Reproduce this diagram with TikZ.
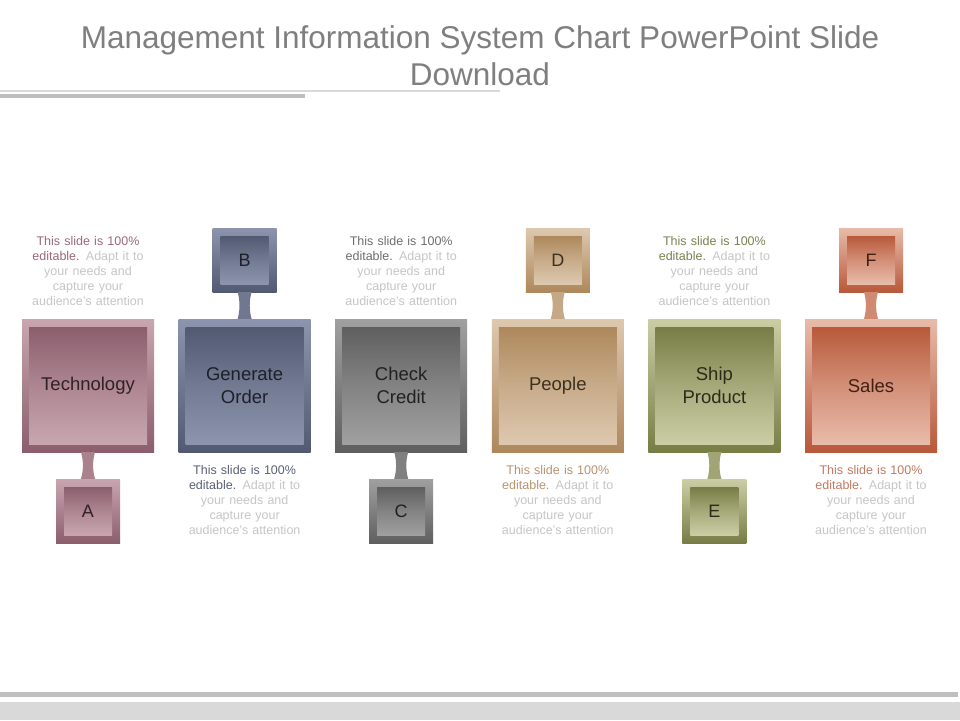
\documentclass[tikz,border=0pt]{standalone}
\usepackage{fontspec}
\setmainfont{Liberation Sans}
\usetikzlibrary{calc}
% column colours: d = dark, l = light, t = text
\definecolor{cAd}{HTML}{8C5E6D}\definecolor{cAl}{HTML}{C8A6B0}\definecolor{cAt}{HTML}{9A6A78}
\definecolor{cBd}{HTML}{525A72}\definecolor{cBl}{HTML}{8D95AE}\definecolor{cBt}{HTML}{5A6178}
\definecolor{cCd}{HTML}{5F5F5F}\definecolor{cCl}{HTML}{A0A0A0}\definecolor{cCt}{HTML}{6E6E6E}
\definecolor{cDd}{HTML}{AE885C}\definecolor{cDl}{HTML}{DDC8AF}\definecolor{cDt}{HTML}{B8946F}
\definecolor{cEd}{HTML}{777D45}\definecolor{cEl}{HTML}{CBCEA5}\definecolor{cEt}{HTML}{7C8150}
\definecolor{cFd}{HTML}{B8593A}\definecolor{cFl}{HTML}{E8BBAA}\definecolor{cFt}{HTML}{C27A62}
\definecolor{titlegray}{HTML}{7F7F7F}
\definecolor{softgray}{HTML}{C6C6C6}
\definecolor{lineA}{HTML}{D9D9D9}
\definecolor{lineB}{HTML}{BFBFBF}
\tikzset{
  bigouter/.style={draw=none, inner sep=0pt, minimum width=132pt, minimum height=133pt,
    top color=#1l, bottom color=#1d},
  biginner/.style={draw=none, inner sep=0pt, minimum width=118pt, minimum height=117pt,
    top color=#1d, bottom color=#1l, middle color=#1d!45!#1l, align=center,
    font=\fontsize{18.5}{23}\selectfont, text=#1d!35!black},
  smallouter/.style={draw=none, inner sep=0pt, minimum size=64pt,
    top color=#1l, bottom color=#1d},
  smallinner/.style={draw=none, inner sep=0pt, minimum size=48pt,
    top color=#1d, bottom color=#1l, middle color=#1d!45!#1l,
    font=\fontsize{18}{22}\selectfont, text=#1d!35!black},
  neckfill/.style={fill=#1d!50!#1l},
  note/.style={align=center, text width=130pt, font=\fontsize{12.5}{15}\selectfont, text=softgray},
  titletext/.style={align=center, font=\fontsize{31.5}{37}\selectfont, text=titlegray}
}
\newcommand{\notetext}[1]{{\color{#1}This slide is 100\%\\editable.} Adapt it to\\your needs and\\capture your\\audience’s attention}
\begin{document}
\begin{tikzpicture}[x=1pt,y=-1pt]
\useasboundingbox (0,0) rectangle (960,720);
\fill[white] (0,0) rectangle (960,720);
% title
\node[titletext] (title) at (480,56) {Management Information System Chart PowerPoint Slide\\Download};
% decorative lines
\fill[lineA] (0,90) rectangle (500,92);
\fill[lineB] (0,94) rectangle (305,97.5);
\fill[lineB] (0,692) rectangle (958,697);
\fill[lineA] (0,702) rectangle (960,720);
% big boxes
\node[bigouter=cA] (bigA) at (88,385.5) {};
\node[biginner=cA] (inA) at (88,385.5) {Technology};
\node[bigouter=cB] (bigB) at (244.6,385.5) {};
\node[biginner=cB] (inB) at (244.6,385.5) {Generate\\Order};
\node[bigouter=cC] (bigC) at (401.2,385.5) {};
\node[biginner=cC] (inC) at (401.2,385.5) {Check\\Credit};
\node[bigouter=cD] (bigD) at (557.8,385.5) {};
\node[biginner=cD] (inD) at (557.8,385.5) {People};
\node[bigouter=cE] (bigE) at (714.4,385.5) {};
\node[biginner=cE] (inE) at (714.4,385.5) {Ship\\Product};
\node[bigouter=cF] (bigF) at (871,385.5) {};
\node[biginner=cF] (inF) at (871,385.5) {Sales};
% small boxes and notes
\node[smallouter=cA] (sA) at (88,511) {};
\node[smallinner=cA] (lA) at (88,511) {A};
\node[note] (nA) at (88,271) {\notetext{cAt}};
\node[smallouter=cB] (sB) at (244.6,260) {};
\node[smallinner=cB] (lB) at (244.6,260) {B};
\node[note] (nB) at (244.6,500) {\notetext{cBt}};
\node[smallouter=cC] (sC) at (401.2,511) {};
\node[smallinner=cC] (lC) at (401.2,511) {C};
\node[note] (nC) at (401.2,271) {\notetext{cCt}};
\node[smallouter=cD] (sD) at (557.8,260) {};
\node[smallinner=cD] (lD) at (557.8,260) {D};
\node[note] (nD) at (557.8,500) {\notetext{cDt}};
\node[smallouter=cE] (sE) at (714.4,511) {};
\node[smallinner=cE] (lE) at (714.4,511) {E};
\node[note] (nE) at (714.4,271) {\notetext{cEt}};
\node[smallouter=cF] (sF) at (871,260) {};
\node[smallinner=cF] (lF) at (871,260) {F};
\node[note] (nF) at (871,500) {\notetext{cFt}};
% necks
\foreach \c/\p/\q in {A/bigA.south/sA.north, B/sB.south/bigB.north, C/bigC.south/sC.north, D/sD.south/bigD.north, E/bigE.south/sE.north, F/sF.south/bigF.north}{
  \fill[neckfill=c\c] ([xshift=-7pt]\p) .. controls ($(\p)!0.3!(\q)+(-4.5,0)$) and ($(\p)!0.7!(\q)+(-4.5,0)$) .. ([xshift=-7pt]\q)
     -- ([xshift=7pt]\q) .. controls ($(\p)!0.7!(\q)+(4.5,0)$) and ($(\p)!0.3!(\q)+(4.5,0)$) .. ([xshift=7pt]\p) -- cycle;
}
\end{tikzpicture}
\end{document}
